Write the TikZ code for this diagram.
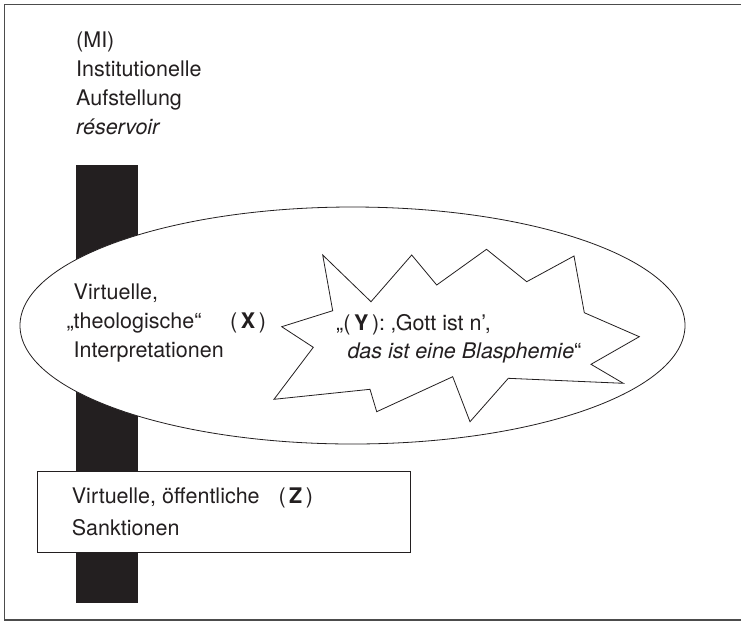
\documentclass[tikz,border=0pt]{standalone}
\usepackage{fontspec}
\setmainfont{TeX Gyre Heros}
\usetikzlibrary{shapes.geometric}
\definecolor{ink}{HTML}{231F20}

\begin{document}
\begin{tikzpicture}[x=1pt,y=-1pt,
	txt/.style = {anchor=base west, inner sep=0pt, text=ink,
		font=\fontsize{21.5}{29}\selectfont},
	bubble/.style = {draw=ink, fill=white, line width=0.8pt, line join=miter}]
\useasboundingbox (0,0) rectangle (741,622);
% frame (open to the right)
\draw[gray!60!black, line width=1.2pt] (741,4.5) -- (4.5,4.5) -- (4.5,620) -- (741,620);
% reservoir
\fill[ink] (76,165) rectangle (138,603);
\node[ellipse, bubble, inner sep=0pt, minimum width=665pt, minimum height=237pt] (interp) at (352.5,325.5) {};
\draw[bubble] (322.7,255) -- (371,301.7) -- (411.7,255) -- (436.7,285) -- (486.5,249.3)
	-- (526.7,281.7) -- (574,256) -- (584.3,312.7) -- (639.3,336.7) -- (591,364.3)
	-- (623.3,383.3) -- (508.3,378.3) -- (470,421.7) -- (452.7,376.7) -- (376.7,411.7)
	-- (370,389.3) -- (274,399.3) -- (313.3,347.3) -- (281.7,326.7) -- (332.7,310.7) -- cycle;
\node[draw=ink, fill=white, line width=1pt, inner sep=0pt,
	minimum width=373pt, minimum height=81pt] (sankt) at (223.5,511.5) {};
% texts
\node[txt] (mi)    at (76,47.5)  {(MI)};
\node[txt] (inst)  at (76,76.5)  {Institutionelle};
\node[txt] (aufst) at (76,105.5) {Aufstellung};
\node[txt] (res)   at (76,134.5) {\itshape réservoir};
\node[txt] (virt)  at (73.5,299.3) {Virtuelle,};
\node[txt] (theol) at (73.5,328.3) {\llap{„}theologische“};
\node[txt] (interpr) at (73.5,357.3) {Interpretationen};
\node[txt] (x)     at (230,328.3) {(\,\textbf{X}\,)};
\node[txt] (gott)  at (336,330)   {„(\,\textbf{Y}\,): ‚Gott ist n’,};
\node[txt] (blas)  at (347.3,358.3) {\textit{das ist eine Blasphemie}“};
\node[txt] (oeff)  at (71.7,503.3) {Virtuelle, öffentliche};
\node[txt] (sankn) at (71.7,535)   {Sanktionen};
\node[txt] (z)     at (278.3,503.3) {(\,\textbf{Z}\,)};
\end{tikzpicture}
\end{document}
